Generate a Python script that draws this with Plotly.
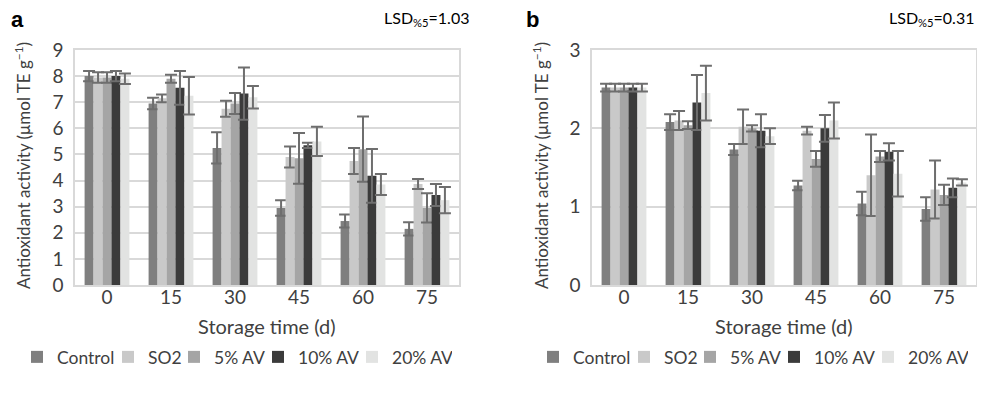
import plotly.graph_objects as go

categories = ["0", "15", "30", "45", "60", "75"]
series_names = ["Control", "SO2", "5% AV", "10% AV", "20% AV"]
colors = ["#7f7f7f", "#c9c9c9", "#a5a5a5", "#3b3b3b", "#e2e3e2"]
legend_widths = [46, 21, 39, 49, 55]

# Panel a values and errors
a_control = [8.0, 6.95, 5.25, 2.95, 2.45, 2.15]
a_so2 = [7.95, 7.15, 6.75, 4.9, 4.75, 3.87]
a_av5 = [7.95, 7.9, 6.95, 4.85, 5.2, 2.95]
a_av10 = [8.0, 7.55, 7.33, 5.35, 4.18, 3.45]
a_av20 = [7.9, 7.25, 7.19, 5.5, 3.85, 3.25]
a_control_err = [0.2, 0.22, 0.6, 0.3, 0.25, 0.25]
a_so2_err = [0.2, 0.15, 0.31, 0.4, 0.5, 0.19]
a_av5_err = [0.2, 0.15, 0.4, 0.97, 1.25, 0.56]
a_av10_err = [0.2, 0.65, 1.0, 0.1, 1.03, 0.42]
a_av20_err = [0.2, 0.72, 0.43, 0.56, 0.4, 0.5]

# Panel b values and errors
b_control = [2.52, 2.08, 1.73, 1.27, 1.04, 0.97]
b_so2 = [2.52, 2.1, 2.02, 1.97, 1.4, 1.22]
b_av5 = [2.52, 2.04, 2.0, 1.61, 1.64, 1.15]
b_av10 = [2.52, 2.33, 1.97, 2.0, 1.7, 1.24]
b_av20 = [2.52, 2.45, 1.9, 2.1, 1.42, 1.31]
b_control_err = [0.05, 0.1, 0.07, 0.06, 0.15, 0.15]
b_so2_err = [0.05, 0.12, 0.22, 0.05, 0.52, 0.37]
b_av5_err = [0.05, 0.05, 0.04, 0.1, 0.07, 0.13]
b_av10_err = [0.05, 0.35, 0.21, 0.17, 0.11, 0.12]
b_av20_err = [0.05, 0.35, 0.1, 0.23, 0.29, 0.04]

a_vals = [a_control, a_so2, a_av5, a_av10, a_av20]
a_errs = [a_control_err, a_so2_err, a_av5_err, a_av10_err, a_av20_err]
b_vals = [b_control, b_so2, b_av5, b_av10, b_av20]
b_errs = [b_control_err, b_so2_err, b_av5_err, b_av10_err, b_av20_err]

FONT = "Lato"
OFF = 8  # page body margin
W, H = 985 - OFF, 393 - OFF
TXT = "#404040"

fig = go.Figure()

for i, name in enumerate(series_names):
    fig.add_trace(go.Bar(
        x=categories, y=a_vals[i], name=name, marker_color=colors[i],
        marker_line_width=0, legendwidth=legend_widths[i],
        error_y=dict(type="data", array=a_errs[i], color="#6e6e6e", thickness=2, width=6),
        xaxis="x", yaxis="y", legend="legend",
    ))
for i, name in enumerate(series_names):
    fig.add_trace(go.Bar(
        x=categories, y=b_vals[i], name=name, marker_color=colors[i],
        marker_line_width=0, legendwidth=legend_widths[i],
        error_y=dict(type="data", array=b_errs[i], color="#6e6e6e", thickness=2, width=6),
        xaxis="x2", yaxis="y2", legend="legend2",
    ))

def px_x(p):
    return (p - OFF) / W

def px_y(p):
    return 1 - (p - OFF) / H

ydom = [px_y(285), px_y(50)]
grid = "#d9d9d9"
tickfont = dict(family=FONT, size=19, color=TXT)

common_x = dict(type="category", showgrid=False, showline=True, linecolor=grid, linewidth=1.5,
                mirror=True, ticks="", tickfont=tickfont, automargin=False, ticklabelstandoff=-6)
common_y = dict(dtick=1, showgrid=True, gridcolor=grid, gridwidth=1.5, showline=True,
                linecolor=grid, linewidth=1.5, mirror=True, zeroline=False, ticks="",
                tickfont=tickfont, automargin=False, ticklabelstandoff=6)

fig.update_layout(
    width=W, height=H,
    margin=dict(l=0, r=0, t=0, b=0, autoexpand=False),
    paper_bgcolor="white", plot_bgcolor="white",
    barmode="group", bargap=0.3, bargroupgap=0,
    font=dict(family=FONT, color=TXT),
    xaxis=dict(domain=[px_x(75), px_x(459)], anchor="y", **common_x),
    yaxis=dict(domain=ydom, range=[0, 9], anchor="x", **common_y),
    xaxis2=dict(domain=[px_x(592), px_x(976)], anchor="y2", **common_x),
    yaxis2=dict(domain=ydom, range=[0, 3], anchor="x2", **common_y),
    legend=dict(orientation="h", x=px_x(17), y=px_y(357), yanchor="middle", xanchor="left",
                font=dict(family=FONT, size=17.5, color=TXT), itemwidth=30,
                traceorder="normal", bgcolor="rgba(0,0,0,0)"),
    legend2=dict(orientation="h", x=px_x(533), y=px_y(357), yanchor="middle", xanchor="left",
                 font=dict(family=FONT, size=17.5, color=TXT), itemwidth=30,
                 traceorder="normal", bgcolor="rgba(0,0,0,0)"),
)

ytitle = "Antioxidant activity (μmol TE g<sup>−1</sup>)"
ann = []
for xl, xlbl in [(22, 267), (540, 784)]:
    ann.append(dict(text=ytitle, x=px_x(xl), y=px_y(166), xref="paper", yref="paper",
                    textangle=-90, showarrow=False, xanchor="center", yanchor="middle",
                    font=dict(family=FONT, size=17, color=TXT)))
    ann.append(dict(text="Storage time (d)", x=px_x(xlbl), y=px_y(326), xref="paper", yref="paper",
                    showarrow=False, xanchor="center", yanchor="middle",
                    font=dict(family=FONT, size=20, color=TXT)))
ann.append(dict(text="<b>a</b>", x=px_x(9), y=px_y(19), xref="paper", yref="paper", showarrow=False,
                xanchor="left", yanchor="middle", font=dict(family="Liberation Sans", size=22, color="black")))
ann.append(dict(text="<b>b</b>", x=px_x(524), y=px_y(19), xref="paper", yref="paper", showarrow=False,
                xanchor="left", yanchor="middle", font=dict(family="Liberation Sans", size=22, color="black")))
ann.append(dict(text="LSD<sub>%5</sub>=1.03", x=px_x(471), y=px_y(18), xref="paper", yref="paper",
                showarrow=False, xanchor="right", yanchor="middle", font=dict(family=FONT, size=16, color="black")))
ann.append(dict(text="LSD<sub>%5</sub>=0.31", x=px_x(976), y=px_y(18), xref="paper", yref="paper",
                showarrow=False, xanchor="right", yanchor="middle", font=dict(family=FONT, size=16, color="black")))
fig.update_layout(annotations=ann)

fig.write_html("out.html")
